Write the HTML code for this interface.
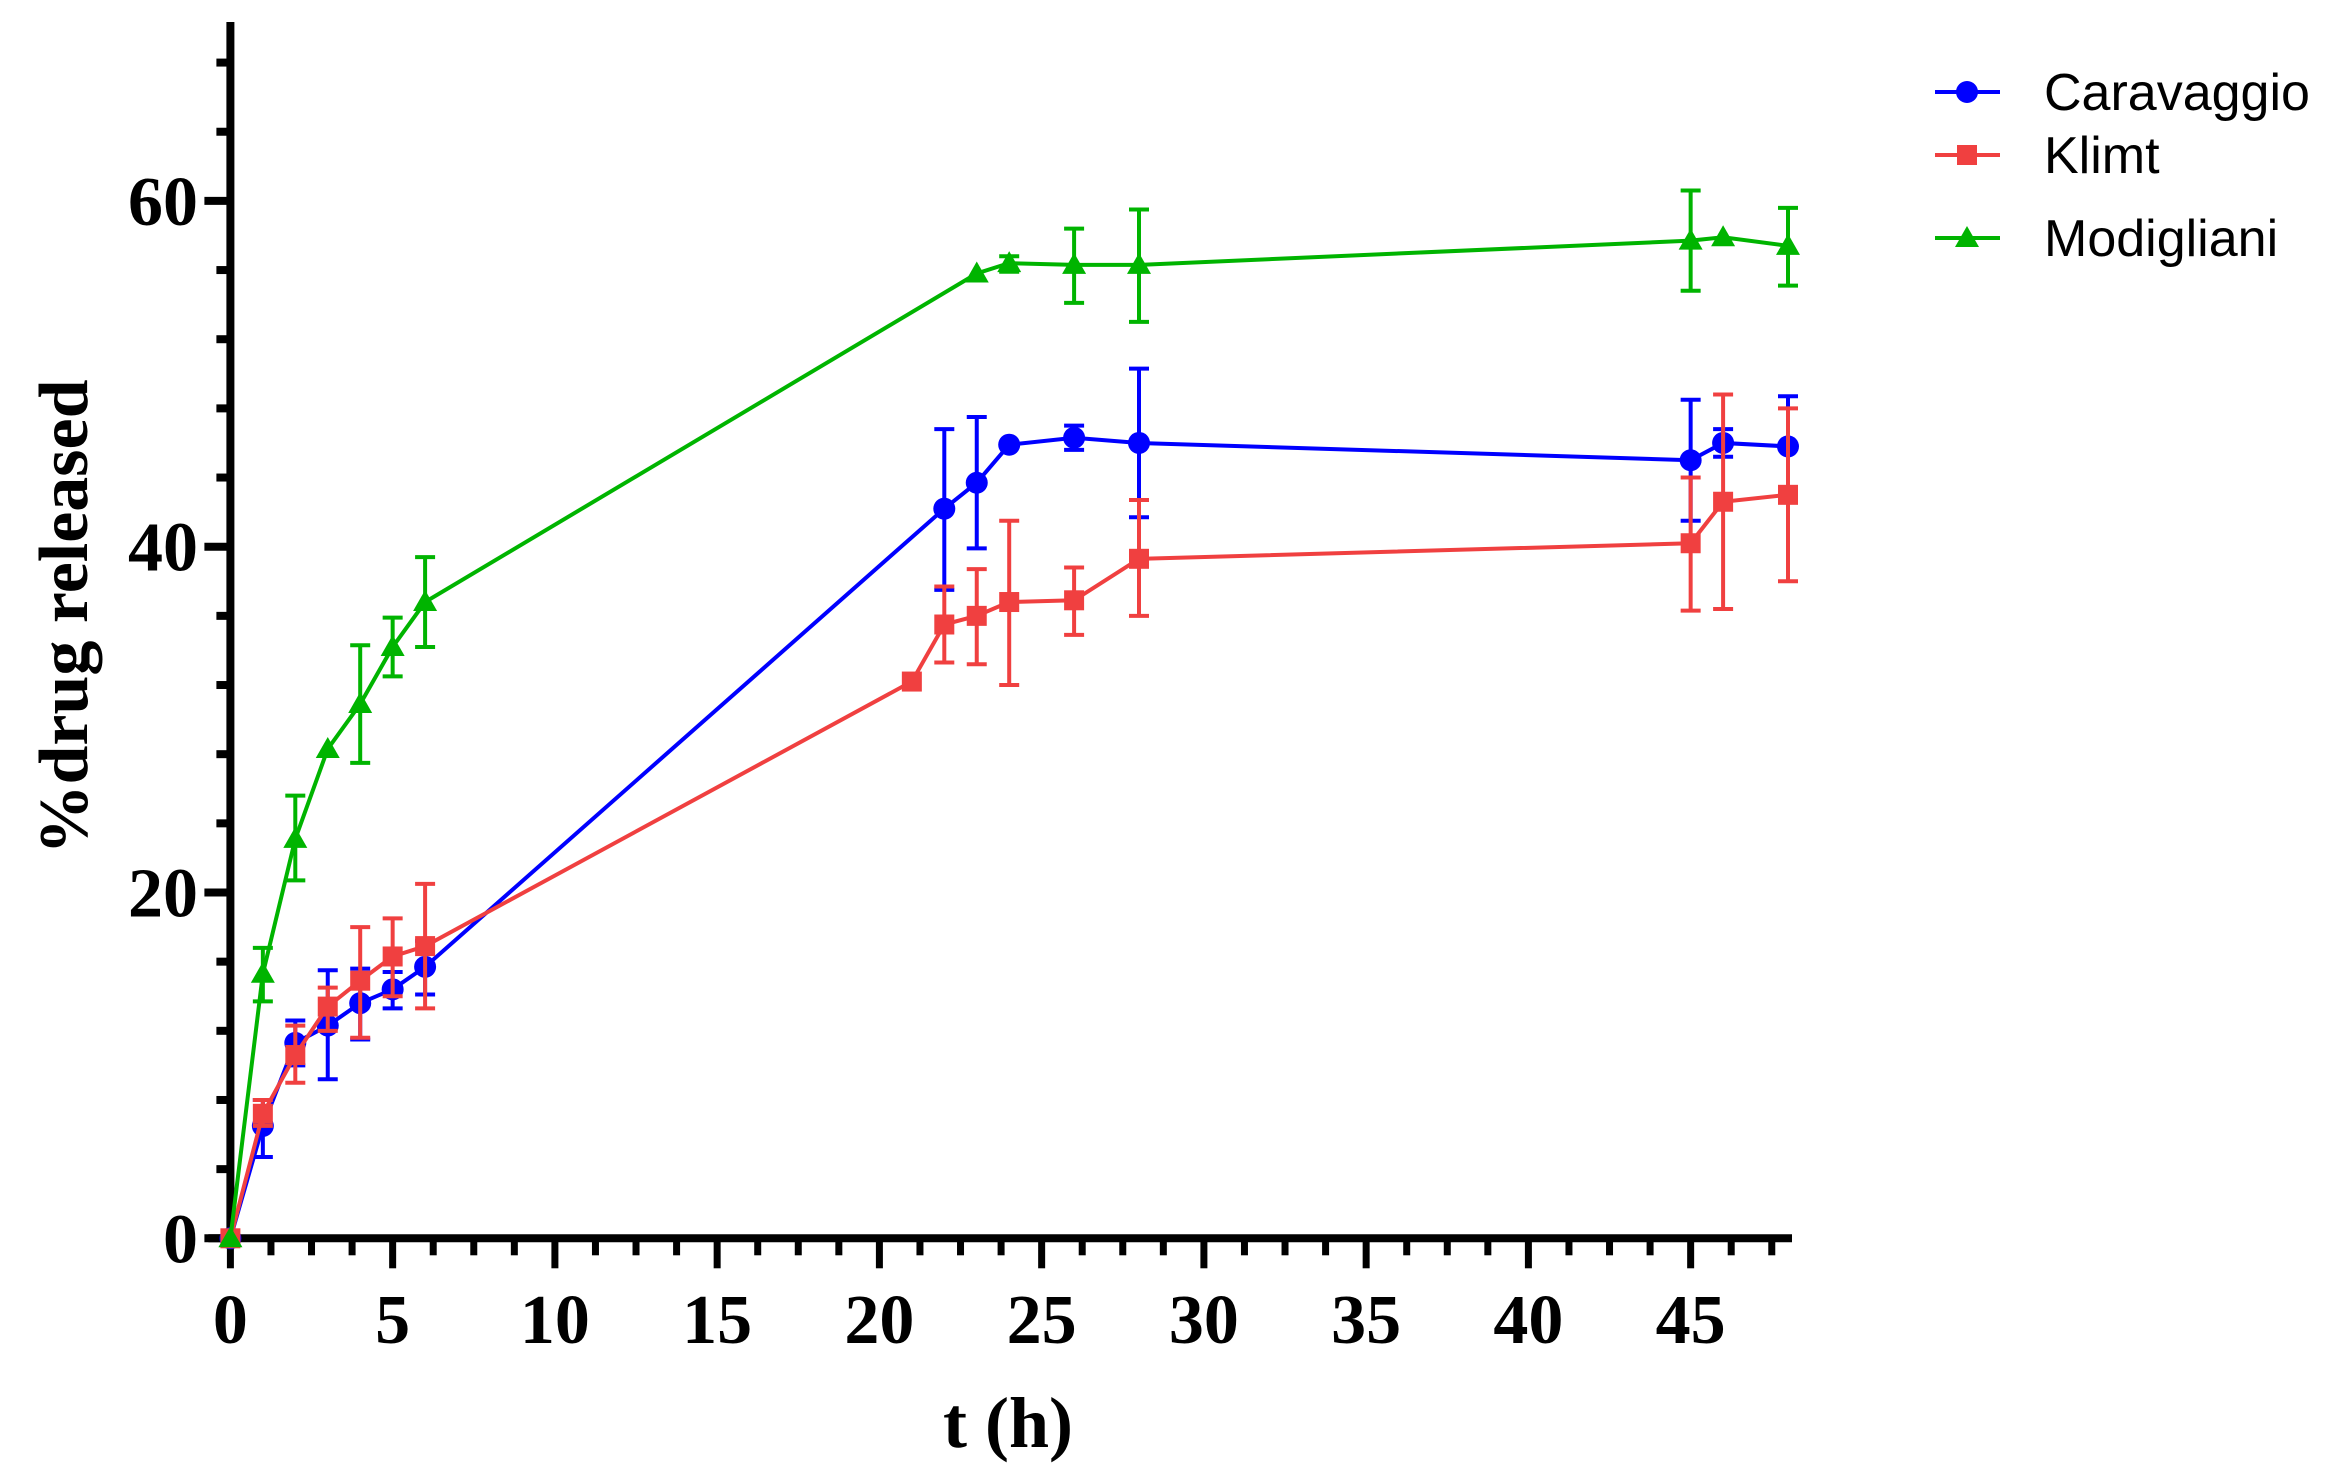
<!DOCTYPE html>
<html><head><meta charset="utf-8"><style>body{margin:0;background:#fff}svg{display:block}</style></head>
<body>
<svg id="s" width="2331" height="1475" viewBox="0 0 2331 1475" xmlns="http://www.w3.org/2000/svg"></svg>
<script>
const s=document.getElementById('s');
const X=t=>230.4+32.45*t, Y=v=>1238.3-17.29*v;
let h='';
h+=`<line x1="${X(0)}" y1="22" x2="${X(0)}" y2="${Y(0)+4}" stroke="#000" stroke-width="8"/>`;
h+=`<line x1="${X(0)-22}" y1="${Y(0)}" x2="${X(48)+4}" y2="${Y(0)}" stroke="#000" stroke-width="8"/>`;
for(let v=0;v<=68;v+=4){const big=v%20==0;h+=`<line x1="${X(0)-(big?26:14)}" y1="${Y(v)}" x2="${X(0)}" y2="${Y(v)}" stroke="#000" stroke-width="8"/>`;}
for(let i=0;i<=38;i++){const t=i*1.25;if(t>48.1)break;const big=i%4==0;h+=`<line x1="${X(t)}" y1="${Y(0)}" x2="${X(t)}" y2="${Y(0)+(big?30:17)}" stroke="#000" stroke-width="7"/>`;}
const F='font-family="Liberation Serif,serif" font-weight="bold"';
for(let v=0;v<=60;v+=20)h+=`<text x="198" y="${Y(v)+24}" text-anchor="end" font-size="70" ${F}>${v}</text>`;
for(let t=0;t<=45;t+=5)h+=`<text x="${X(t)}" y="1343" text-anchor="middle" font-size="70" ${F}>${t}</text>`;
h+=`<text x="1008" y="1447" text-anchor="middle" font-size="72" ${F}>t (h)</text>`;
h+=`<text transform="translate(87,617) rotate(-90)" text-anchor="middle" font-size="70" ${F}>%drug released</text>`;
const series=[
{c:'#0000ff',m:'circle',d:[[0,0],[1,6.5,4.7,8],[2,11.3,10,12.6],[3,12.3,9.2,15.5],[4,13.6,11.5,15.6],[5,14.4,13.3,15.4],[6,15.7,14.1,17.2],[22,42.2,37.5,46.8],[23,43.7,39.9,47.5],[24,45.9],[26,46.3,45.6,47],[28,46,41.7,50.3],[45,45,41.5,48.5],[46,46,45.2,46.8],[48,45.8,42.8,48.7]]},
{c:'#f04040',m:'sq',d:[[0,0],[1,7.2,6.5,8],[2,10.6,9,12.3],[3,13.4,12,14.5],[4,14.9,11.6,18],[5,16.3,14,18.5],[6,16.9,13.3,20.5],[21,32.2],[22,35.5,33.3,37.7],[23,36,33.2,38.7],[24,36.8,32,41.5],[26,36.9,34.9,38.8],[28,39.3,36,42.7],[45,40.2,36.3,44],[46,42.6,36.4,48.8],[48,43,38,48]]},
{c:'#00b400',m:'tri',d:[[0,0],[1,15.3,13.7,16.8],[2,23.1,20.7,25.6],[3,28.3],[4,30.9,27.5,34.3],[5,34.2,32.5,35.9],[6,36.8,34.2,39.4],[23,55.8],[24,56.4,55.9,56.8],[26,56.3,54.1,58.4],[28,56.3,53,59.5],[45,57.7,54.8,60.6],[46,57.9],[48,57.4,55.1,59.6]]}];
function mk(m,x,y,c){if(m=='circle')return `<circle cx="${x}" cy="${y}" r="11" fill="${c}"/>`;
if(m=='sq')return `<rect x="${x-10}" y="${y-10}" width="20" height="20" fill="${c}"/>`;
return `<polygon points="${x},${y-12} ${x-12},${y+9} ${x+12},${y+9}" fill="${c}"/>`;}
for(const sr of series){
 for(const p of sr.d)if(p.length>2){const x=X(p[0]);h+=`<path d="M${x},${Y(p[2])}V${Y(p[3])}M${x-10},${Y(p[2])}H${x+10}M${x-10},${Y(p[3])}H${x+10}" stroke="${sr.c}" stroke-width="4" fill="none"/>`;}
 h+=`<polyline points="${sr.d.map(p=>X(p[0])+','+Y(p[1])).join(' ')}" fill="none" stroke="${sr.c}" stroke-width="4"/>`;
 for(const p of sr.d)h+=mk(sr.m,X(p[0]),Y(p[1]),sr.c);
}
const L=[['Caravaggio',92],['Klimt',155],['Modigliani',238]];
L.forEach((l,i)=>{const c=series[i].c;h+=`<line x1="1935" y1="${l[1]}" x2="2000" y2="${l[1]}" stroke="${c}" stroke-width="4"/>`+mk(series[i].m,1967,l[1],c)+`<text x="2044" y="${l[1]+18}" font-size="52" font-family="Liberation Sans,sans-serif">${l[0]}</text>`;});
s.innerHTML=h;
</script>
</body></html>
